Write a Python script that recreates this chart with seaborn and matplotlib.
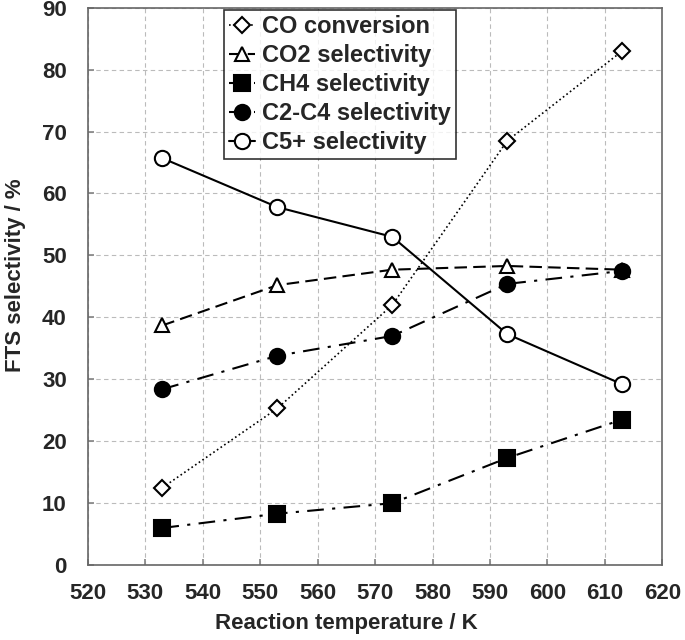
""" FTS selectivity vs reaction temperature """
import matplotlib

matplotlib.use("Agg")
import matplotlib.pyplot as plt
import seaborn as sns
import pandas as pd

temperature = [533, 553, 573, 593, 613]
co_conversion = [12.5, 25.3, 42.0, 68.5, 83.0]
co2_selectivity = [38.7, 45.2, 47.7, 48.3, 47.7]
ch4_selectivity = [6.0, 8.3, 10.0, 17.3, 23.5]
c2c4_selectivity = [28.4, 33.8, 37.0, 45.4, 47.5]
c5_selectivity = [65.7, 57.8, 53.0, 37.3, 29.2]

series_names = [
    "CO conversion",
    "CO2 selectivity",
    "CH4 selectivity",
    "C2-C4 selectivity",
    "C5+ selectivity",
]
x_ticks = list(range(520, 621, 10))
y_ticks = list(range(0, 91, 10))

sns.set_theme(style="white")
plt.rcParams["font.family"] = ["Liberation Sans", "DejaVu Sans"]
plt.rcParams["font.weight"] = "bold"

df = pd.DataFrame(
    {
        "T": temperature,
        series_names[0]: co_conversion,
        series_names[1]: co2_selectivity,
        series_names[2]: ch4_selectivity,
        series_names[3]: c2c4_selectivity,
        series_names[4]: c5_selectivity,
    }
)

styles = {
    "CO conversion": dict(marker="D", mfc="white", ls=":", ms=8, lw=1.2),
    "CO2 selectivity": dict(marker="^", mfc="white", ls=(0, (6, 3)), ms=10, lw=1.5),
    "CH4 selectivity": dict(marker="s", mfc="black", ls=(0, (8, 4, 1.5, 4)), ms=11, lw=1.5),
    "C2-C4 selectivity": dict(marker="o", mfc="black", ls=(0, (8, 4, 1.5, 4)), ms=11, lw=1.5),
    "C5+ selectivity": dict(marker="o", mfc="white", ls="-", ms=11, lw=1.5),
}

fig, ax = plt.subplots(figsize=(6.85, 6.4), dpi=100)
fig.subplots_adjust(left=0.128, right=0.967, top=0.988, bottom=0.117)

for name in series_names:
    st = styles[name]
    sns.lineplot(
        data=df, x="T", y=name, ax=ax, color="black",
        marker=st["marker"], markerfacecolor=st["mfc"], markeredgecolor="black",
        markeredgewidth=1.5, markersize=st["ms"], linestyle=st["ls"],
        linewidth=st["lw"], label=name,
    )

ax.set_xlim(520, 620)
ax.set_ylim(0, 90)
ax.set_xticks(x_ticks)
ax.set_yticks(y_ticks)
ax.grid(True, color="#bbbbbb", linestyle=(0, (4, 3)), linewidth=0.8)
ax.tick_params(axis="both", labelsize=16, direction="in", length=4, color="#888888",
               bottom=True, left=True)
ax.tick_params(axis="x", pad=13)
ax.tick_params(axis="y", pad=15)
for lab in ax.get_xticklabels() + ax.get_yticklabels():
    lab.set_fontweight("bold")
for sp in ax.spines.values():
    sp.set_color("#666666")
    sp.set_linewidth(1.2)

ax.set_xlabel("Reaction temperature / K", fontsize=16, fontweight="bold")
ax.set_ylabel("FTS selectivity / %", fontsize=16, fontweight="bold")
ax.xaxis.set_label_coords(0.45, -0.085)
ax.yaxis.set_label_coords(-0.107, 0.52)

leg = ax.legend(
    loc="upper left", bbox_to_anchor=(0.238, 0.995), fontsize=17, frameon=True,
    fancybox=False, edgecolor="black", handlelength=1.1, handletextpad=0.3,
    borderpad=0.2, labelspacing=0.25, borderaxespad=0.0,
)
leg.get_frame().set_linewidth(1.2)
for t in leg.get_texts():
    t.set_fontweight("bold")

fig.savefig("out.png")
plt.close(fig)
